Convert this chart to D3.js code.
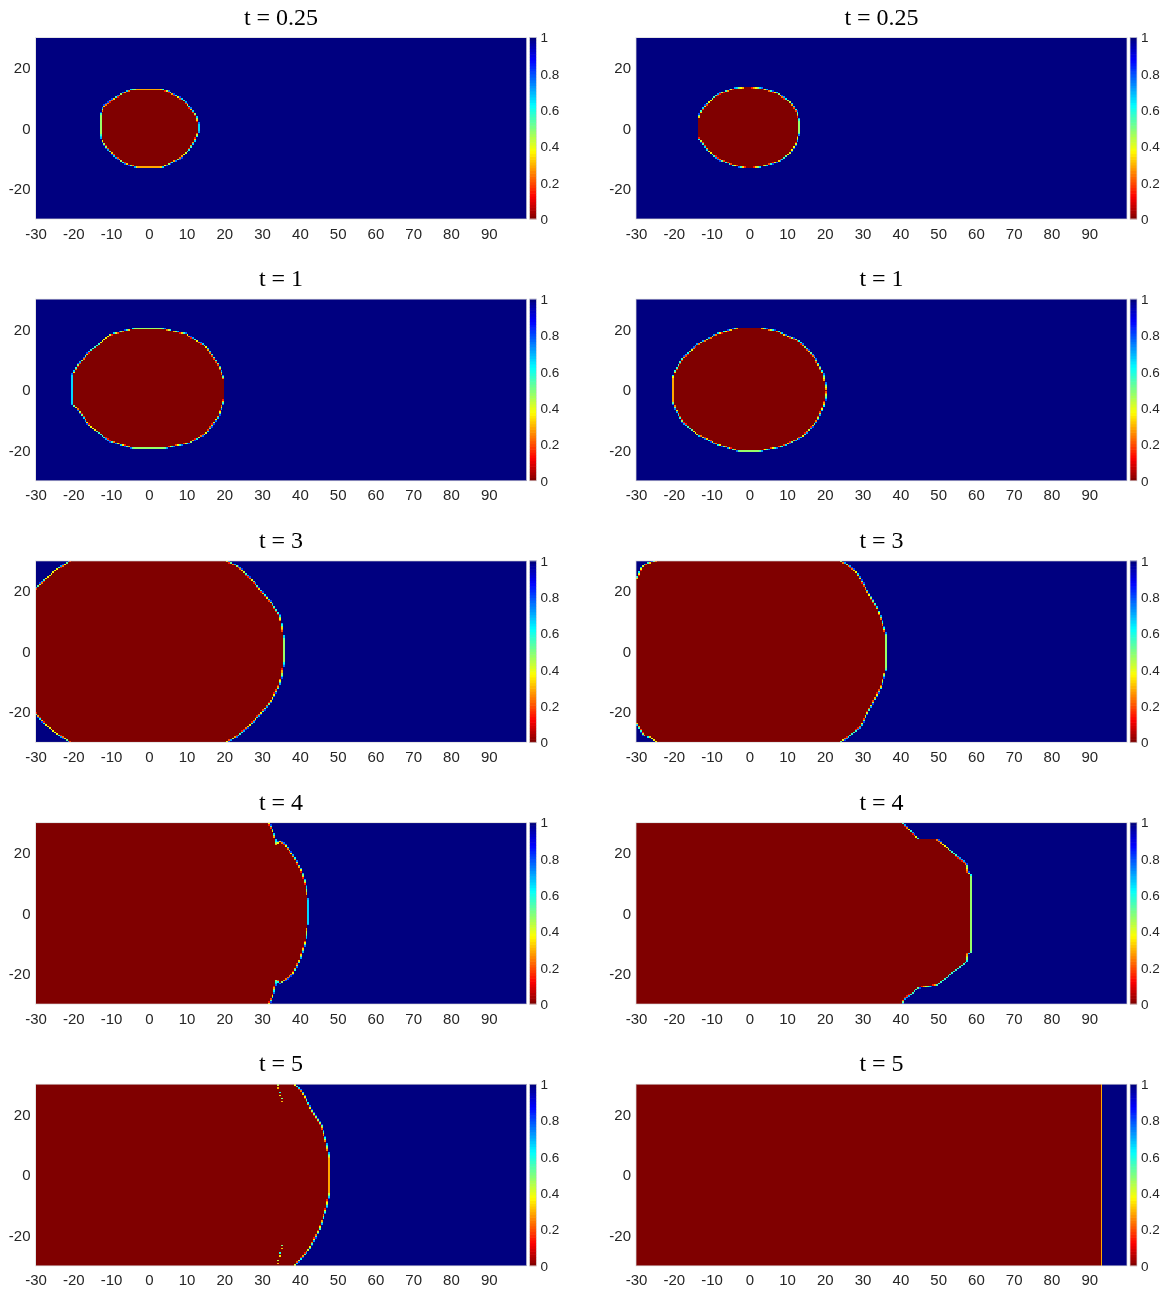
<!DOCTYPE html>
<html>
<head>
<meta charset="utf-8">
<script src="https://cdn.jsdelivr.net/npm/d3@7"></script>
<style>
  html, body { margin: 0; padding: 0; background: #ffffff; }
  #wrap { position: relative; width: 1164px; height: 1292px; }
  #wrap canvas, #wrap svg { position: absolute; left: 0; top: 0; }
</style>
</head>
<body>
<div id="wrap">
  <canvas id="field" width="1164" height="1292"></canvas>
  <svg id="axes" width="1164" height="1292"></svg>
</div>
<script>
// Snapshot times, one row per time
const times = ["0.25", "1", "3", "4", "5"];

// Axis ticks
const xTicks = [-30, -20, -10, 0, 10, 20, 30, 40, 50, 60, 70, 80, 90];
const yTicks = [-20, 0, 20];
const cbTicks = [0, 0.2, 0.4, 0.6, 0.8, 1];
const cbTickLabels = ["0", "0.2", "0.4", "0.6", "0.8", "1"];

// Computational domain and grid spacing
const xDomain = [-30, 100];
const yDomain = [-30, 30];
const cellSize = 0.5;

// Outline of the u = 0 region (left column), [x, y]
const frontA025 = [[-2.9, 12.9], [3.2, 12.9], [5.2, 12.1], [9.2, 9.3], [11.2, 6.5], [12.5, 4.3], [13.1, 1.6],
  [13.1, -1.2], [12.3, -3.9], [10.7, -7.2], [8.2, -10.0], [5.2, -11.8], [3.2, -12.9], [-2.9, -12.9],
  [-5.9, -11.8], [-9.0, -9.4], [-11.0, -6.7], [-12.5, -3.9], [-12.8, -1.2], [-12.8, 4.3], [-12.0, 7.1],
  [-10.0, 9.3], [-6.9, 11.5], [-4.9, 12.6]];
const frontA1 = [[-4.1, 20.2], [3.7, 20.2], [10.0, 18.5], [15.4, 14.2], [18.4, 8.4], [20.0, 3.4], [20.0, -3.2],
  [18.4, -8.7], [15.4, -14.2], [10.9, -17.5], [3.9, -19.3], [-4.1, -19.3], [-10.3, -17.0], [-15.6, -12.0],
  [-18.7, -6.5], [-20.1, -4.8], [-20.1, 5.1], [-18.7, 8.4], [-15.6, 12.8], [-10.3, 18.3]];
const frontA3 = [[-20.7, 30], [20.5, 30], [24.0, 27.8], [27.6, 23.4], [30.5, 19.0], [32.9, 15.3], [34.6, 12.0],
  [35.3, 8.0], [35.7, 4.2], [35.7, -3.5], [35.2, -8.0], [34.3, -12.0], [32.5, -16.0], [30.0, -20.0],
  [27.0, -24.0], [24.0, -27.5], [20.5, -30], [-20.7, -30], [-24.0, -27.5], [-27.5, -24.0], [-30, -20.3],
  [-30, 20.7], [-27.5, 24.0], [-24.0, 27.5]];
const frontA4 = [[-30, 30], [31.7, 30], [32.9, 27.1], [33.6, 24.4], [33.8, 22.6], [34.6, 24.0], [36.0, 22.8],
  [38.6, 18.4], [40.4, 14.0], [41.5, 9.6], [42.1, 4.6], [42.1, -3.6], [41.5, -9.0], [39.9, -15.6],
  [38.2, -20.0], [36.0, -22.2], [34.6, -23.2], [33.8, -21.8], [33.6, -23.6], [32.9, -27.1], [31.7, -30],
  [-30, -30]];
const frontA5 = [[-30, 30], [38.6, 30], [40.4, 27.8], [43.0, 21.8], [45.7, 16.3], [47.0, 10.8], [47.9, 5.3],
  [47.9, -5.6], [47.0, -11.1], [45.2, -17.7], [42.6, -24.3], [39.9, -28.1], [38.6, -30], [-30, -30]];

// Outline of the u = 0 region (right column), [x, y]
const frontB025 = [[-1.1, 13.5], [0.5, 13.5], [3.7, 13.0], [7.3, 11.6], [10.8, 8.8], [12.6, 5.5], [13.2, 2.7],
  [13.2, -1.7], [12.4, -5.0], [10.8, -8.3], [8.1, -10.7], [4.6, -12.2], [1.1, -13.0], [-1.1, -13.0],
  [-4.2, -12.2], [-7.7, -10.5], [-10.8, -7.8], [-12.6, -4.5], [-13.5, -3.3], [-13.5, 3.3], [-12.6, 6.0],
  [-10.8, 8.8], [-7.7, 11.6], [-4.2, 13.0]];
const frontB1 = [[-2.9, 20.5], [2.8, 20.5], [7.3, 19.4], [13.4, 16.1], [17.4, 10.6], [19.6, 5.1], [20.5, -0.4],
  [19.8, -4.8], [17.9, -10.3], [14.3, -15.3], [9.0, -18.6], [2.8, -20.2], [-2.9, -20.2], [-8.6, -18.0],
  [-13.9, -14.7], [-17.5, -10.8], [-19.7, -5.9], [-20.4, -3.7], [-20.4, 4.0], [-19.7, 6.2], [-17.5, 10.6],
  [-13.9, 15.0], [-8.6, 18.5]];
const frontB3 = [[-24.5, 30], [23.9, 30], [26.7, 28.1], [28.5, 26.0], [33.8, 14.4], [34.8, 11.1], [36.2, 5.7],
  [36.2, -5.8], [34.8, -11.9], [32.0, -18.5], [29.3, -25.0], [26.7, -27.8], [23.9, -30], [-24.5, -30],
  [-26.2, -28.3], [-28.0, -27.8], [-30, -23.4], [-30, 23.8], [-28.5, 28.1], [-27.2, 29.0]];
const frontB4 = [[-30, 30], [40.5, 30], [44.9, 24.5], [49.7, 24.5], [57.7, 16.0], [57.9, 13.8], [58.7, 12.7],
  [58.7, -12.9], [57.9, -13.3], [57.7, -15.8], [49.7, -23.8], [44.9, -24.6], [41.1, -28.2], [40.5, -30],
  [-30, -30]];
const frontB5 = [[-30, 30], [93.4, 30], [93.4, -30], [-30, -30]];

// Isolated partially-wetted cells at t = 5 (left column), [x, y, u]
const specksA5 = [[34.0, 29.5, 0.45], [34.0, 28.5, 0.3], [34.5, 27.0, 0.6], [34.5, 26.0, 0.35],
  [35.0, 25.0, 0.5], [35.0, 24.0, 0.3], [35.0, -23.5, 0.5], [35.0, -24.5, 0.3], [34.5, -26.0, 0.6],
  [34.5, -27.0, 0.35], [34.0, -28.5, 0.45], [34.0, -29.5, 0.3]];

const leftFronts = [frontA025, frontA1, frontA3, frontA4, frontA5];
const rightFronts = [frontB025, frontB1, frontB3, frontB4, frontB5];
const leftSpecks = [[], [], [], [], specksA5];
const rightSpecks = [[], [], [], [], []];

// Page layout
const columns = [
  { x0: 35.5, x1: 526.5, fronts: leftFronts, specks: leftSpecks },
  { x0: 636, x1: 1127, fronts: rightFronts, specks: rightSpecks }
];
const rowTop = r => 37.5 + 261.7 * r;
const plotH = 181.5;
const cbGap = 3, cbW = 7;
const nColors = 64;

// Reversed jet colormap: 0 -> dark red, 1 -> dark blue
function jetRev(v) {
  const t = 1 - v;
  const c = a => Math.max(0, Math.min(1, a));
  const r = c(1.5 - Math.abs(4 * t - 3));
  const g = c(1.5 - Math.abs(4 * t - 2));
  const b = c(1.5 - Math.abs(4 * t - 1));
  return d3.rgb(r * 255, g * 255, b * 255);
}
const quant = v => Math.min(nColors - 1, Math.floor(v * nColors));
const palette = d3.range(nColors).map(i => jetRev((i + 0.5) / nColors).formatHex());
palette[0] = jetRev(0).formatHex();
palette[nColors - 1] = jetRev(1).formatHex();

const ctx = document.getElementById("field").getContext("2d");
const svg = d3.select("#axes");

const nx = Math.round((xDomain[1] - xDomain[0]) / cellSize);
const ny = Math.round((yDomain[1] - yDomain[0]) / cellSize);

// u value of a grid cell: 0 inside the front, 1 outside, a smeared value across the interface
function cellValue(poly, xa, ya) {
  const pts = [[xa + 0.02, ya + 0.02], [xa + cellSize - 0.02, ya + 0.02], [xa + 0.02, ya + cellSize - 0.02],
    [xa + cellSize - 0.02, ya + cellSize - 0.02], [xa + cellSize / 2, ya + cellSize / 2]];
  const ins = pts.map(p => d3.polygonContains(poly, p));
  if (ins.every(d => d)) return 0;
  if (ins.every(d => !d)) return 1;
  const n = 4;
  let count = 0;
  for (let i = 0; i < n; i++) {
    for (let j = 0; j < n; j++) {
      if (d3.polygonContains(poly, [xa + (i + 0.5) * cellSize / n, ya + (j + 0.5) * cellSize / n])) count++;
    }
  }
  const frac = count / (n * n);
  if (frac === 1) return 0;
  if (frac === 0) return 1;
  return 0.1 + 0.75 * (1 - frac);
}

function drawField(poly, specks, xs, ys) {
  // rows of the grid, bottom to top
  const grid = [];
  for (let j = 0; j < ny; j++) {
    const ya = yDomain[0] + j * cellSize;
    const row = new Array(nx);
    for (let i = 0; i < nx; i++) {
      const xa = xDomain[0] + i * cellSize;
      row[i] = quant(cellValue(poly, xa, ya));
    }
    grid.push(row);
  }
  specks.forEach(([x, y, v]) => {
    const i = Math.floor((x - xDomain[0]) / cellSize);
    const j = Math.floor((y - yDomain[0]) / cellSize);
    if (j >= 0 && j < ny && i >= 0 && i < nx) grid[j][i] = quant(v);
  });
  // runs of equal colour become single rectangles
  for (let j = 0; j < ny; j++) {
    const ya = yDomain[0] + j * cellSize;
    const py0 = Math.round(ys(ya + cellSize));
    const py1 = Math.round(ys(ya));
    let i = 0;
    while (i < nx) {
      const k = grid[j][i];
      let e = i + 1;
      while (e < nx && grid[j][e] === k) e++;
      const px0 = Math.round(xs(xDomain[0] + i * cellSize));
      const px1 = Math.round(xs(xDomain[0] + e * cellSize));
      ctx.fillStyle = palette[k];
      ctx.fillRect(px0, py0, Math.max(1, px1 - px0), py1 - py0);
      i = e;
    }
  }
}

const tickColor = "#262626";
const tickFont = "Liberation Sans, Arial, sans-serif";

columns.forEach(col => {
  times.forEach((tLabel, r) => {
    const top = rowTop(r);
    const bottom = top + plotH;
    const xs = d3.scaleLinear().domain(xDomain).range([col.x0, col.x1]);
    const ys = d3.scaleLinear().domain(yDomain).range([bottom, top]);

    drawField(col.fronts[r], col.specks[r], xs, ys);

    const g = svg.append("g");

    // plot frame
    g.append("rect")
      .attr("x", col.x0).attr("y", top)
      .attr("width", col.x1 - col.x0).attr("height", plotH)
      .attr("fill", "none")
      .attr("stroke", "#dcdcdc").attr("stroke-opacity", 0.75).attr("stroke-width", 1);

    // x axis
    const gx = g.append("g")
      .attr("transform", `translate(0,${bottom})`)
      .call(d3.axisBottom(xs).tickValues(xTicks).tickSize(0).tickPadding(9).tickFormat(d => String(d)));
    gx.select(".domain").remove();

    // y axis
    const gy = g.append("g")
      .attr("transform", `translate(${col.x0},0)`)
      .call(d3.axisLeft(ys).tickValues(yTicks).tickSize(0).tickPadding(5).tickFormat(d => String(d)));
    gy.select(".domain").remove();

    [gx, gy].forEach(a => a.selectAll("text")
      .attr("fill", tickColor).style("font-family", tickFont).style("font-size", "15px"));

    // colour bar
    const cbx = col.x1 + cbGap;
    const cs = d3.scaleLinear().domain([0, 1]).range([bottom, top]);
    g.append("g").selectAll("rect")
      .data(d3.range(nColors))
      .join("rect")
      .attr("x", cbx)
      .attr("y", i => cs((i + 1) / nColors) - 0.3)
      .attr("width", cbW)
      .attr("height", i => cs(i / nColors) - cs((i + 1) / nColors) + 0.6)
      .attr("fill", i => palette[i]);
    g.append("rect")
      .attr("x", cbx).attr("y", top)
      .attr("width", cbW).attr("height", plotH)
      .attr("fill", "none")
      .attr("stroke", "#dcdcdc").attr("stroke-opacity", 0.75).attr("stroke-width", 1);
    const gc = g.append("g")
      .attr("transform", `translate(${cbx + cbW},0)`)
      .call(d3.axisRight(cs).tickValues(cbTicks).tickSize(0).tickPadding(4)
        .tickFormat((d, i) => cbTickLabels[i]));
    gc.select(".domain").remove();
    gc.selectAll("text")
      .attr("fill", tickColor).style("font-family", tickFont).style("font-size", "13.5px");

    // title
    g.append("text")
      .attr("x", (col.x0 + col.x1) / 2)
      .attr("y", top - 13)
      .attr("text-anchor", "middle")
      .style("font-family", "Liberation Serif, 'DejaVu Serif', serif")
      .style("font-size", "24px")
      .attr("fill", "#000")
      .text(`t = ${tLabel}`);
  });
});
</script>
</body>
</html>
